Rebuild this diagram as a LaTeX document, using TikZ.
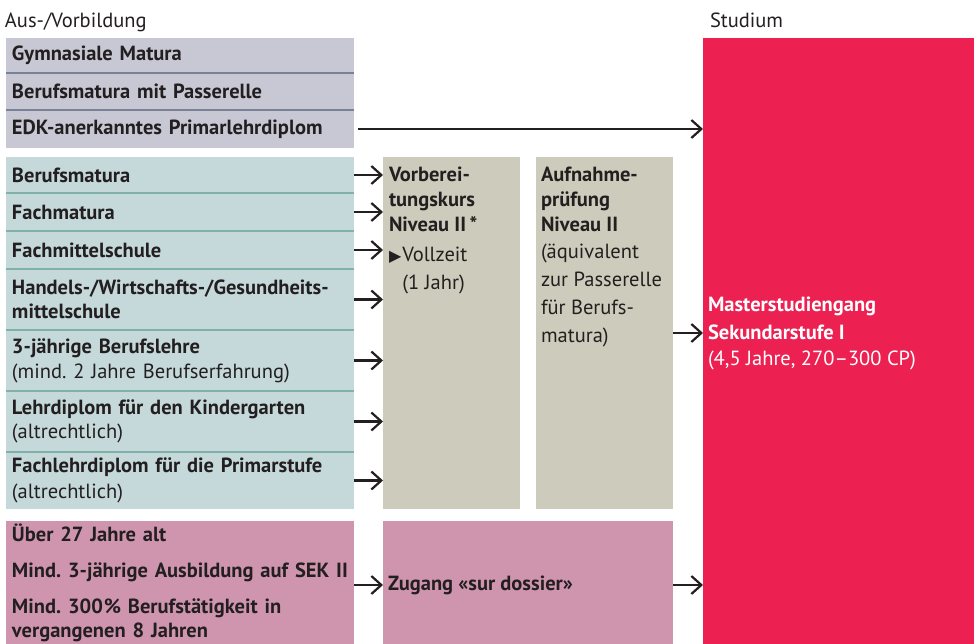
\documentclass[tikz,border=0pt]{standalone}
\usepackage{fontspec}
\setmainfont{PT Sans}
\newfontfamily\symfont{DejaVu Sans}
\usetikzlibrary{arrows.meta}
\frenchspacing
\definecolor{ink}{HTML}{231F20}
\definecolor{grayc}{HTML}{C8C8D4}
\definecolor{graysep}{HTML}{7A8298}
\definecolor{tealc}{HTML}{C5D9DA}
\definecolor{tealsep}{HTML}{7FB1A9}
\definecolor{beigec}{HTML}{CDCBBB}
\definecolor{pinkc}{HTML}{CF95AE}
\definecolor{redc}{HTML}{EC2152}
\newcommand{\tri}{{\symfont\fontsize{16}{16}\selectfont ▶}}
\tikzset{
  txt/.style={inner sep=0pt, outer sep=0pt, text=ink, align=left, font=\fontsize{20.5}{24}\selectfont},
  rowbox/.style={txt, anchor=north west, minimum width=348pt, inner xsep=6pt, text width=336pt},
  panel/.style={draw=none, inner sep=0pt, outer sep=0pt, anchor=north west},
  sepline/.style={line width=2pt},
  conn/.style={line width=2.2pt, draw=ink, -{Straight Barb[length=10pt, width=18pt, line width=2.2pt]}}
}
\begin{document}
\begin{tikzpicture}[x=1pt, y=-1pt]
\useasboundingbox (0,0) rectangle (978,644);
% headings
\node[txt, anchor=base west] (h1) at (5,28) {Aus-/Vorbildung};
\node[txt, anchor=base west] (h2) at (710,28) {Studium};
% gray rows
\node[rowbox, fill=grayc, minimum height=35pt] (g1) at (6,38) {\textbf{Gymnasiale Matura}};
\node[rowbox, fill=grayc, minimum height=37pt] (g2) at (6,73) {\textbf{Berufsmatura mit Passerelle}};
\node[rowbox, fill=grayc, minimum height=38pt] (g3) at (6,110) {\textbf{EDK-anerkanntes Primarlehrdiplom}};
\draw[sepline, graysep] (g1.south west) -- (g1.south east);
\draw[sepline, graysep] (g2.south west) -- (g2.south east);
% teal rows
\node[rowbox, fill=tealc, minimum height=36pt] (t1) at (6,157) {\textbf{Berufsmatura}};
\node[rowbox, fill=tealc, minimum height=38pt] (t2) at (6,193) {\textbf{Fachmatura}};
\node[rowbox, fill=tealc, minimum height=38pt] (t3) at (6,231) {\textbf{Fachmittelschule}};
\node[rowbox, fill=tealc, minimum height=61pt] (t4) at (6,269) {\textbf{Handels-/Wirtschafts-/Gesundheits-}\\\textbf{mittelschule}};
\node[rowbox, fill=tealc, minimum height=61pt] (t5) at (6,330) {\textbf{3-jährige Berufslehre}\\[1pt](mind. 2 Jahre Berufserfahrung)};
\node[rowbox, fill=tealc, minimum height=61pt] (t6) at (6,391) {\textbf{Lehrdiplom für den Kindergarten}\\(altrechtlich)};
\node[rowbox, fill=tealc, minimum height=57pt] (t7) at (6,452) {\textbf{Fachlehrdiplom für die Primarstufe}\\[2pt](altrechtlich)};
\foreach \r in {t1,t2,t3,t4,t5,t6}
  \draw[sepline, tealsep] (\r.south west) -- (\r.south east);
% pink left
\node[rowbox, fill=pinkc, minimum height=123pt] (p1) at (6,521) {\textbf{Über 27 Jahre alt}\\[12pt]\textbf{Mind. 3-jährige Ausbildung auf SEK II}\\[12pt]\textbf{Mind. 300\kern1pt\% Berufstätigkeit in}\\\textbf{vergangenen 8 Jahren}};
% middle panels
\node[panel, fill=beigec, minimum width=137pt, minimum height=352pt] (vk) at (383,157) {};
\node[panel, fill=beigec, minimum width=137pt, minimum height=352pt] (ap) at (536,157) {};
\node[panel, fill=pinkc, minimum width=290pt, minimum height=123pt] (zg) at (383,521) {};
\node[panel, fill=redc, minimum width=271pt, minimum height=606pt] (ms) at (703,38) {};
% panel texts
\node[txt, anchor=north west] (vkt) at (389,167) {\textbf{Vorberei-}\\[1pt]\textbf{tungskurs}\\[1pt]\textbf{Niveau II\,*}\\[6pt]\tri\kern1pt Vollzeit\\[4pt]\hphantom{\tri\kern1pt}(1 Jahr)};
\node[txt, anchor=north west] (apt) at (541,167) {\textbf{Aufnahme-}\\[1pt]\textbf{prüfung}\\[1pt]\textbf{Niveau II}\\[3pt](äquivalent\\[4pt]zur Passerelle\\[4pt]für Berufs-\\[4pt]matura)};
\node[txt, anchor=west] (zgt) at (388,585) {\textbf{Zugang «sur dossier»}};
\node[txt, anchor=north west, text=white] (mst) at (708,297) {\textbf{Masterstudiengang}\\[4pt]\textbf{Sekundarstufe I}\\[2pt](4,5 Jahre, 270–300 CP)};
% connectors
\draw[conn] ([xshift=4pt]g3.east) -- (g3.east -| ms.west);
\foreach \r in {t1,t2,t3,t4,t5,t6,t7}
  \draw[conn] (\r.east) -- (\r.east -| vk.west);
\coordinate (apy) at (ap.east |- 0,333);
\draw[conn] (apy) -- (apy -| ms.west);
\coordinate (py) at (p1.east |- 0,585);
\draw[conn] (py) -- (py -| zg.west);
\draw[conn] (py -| zg.east) -- (py -| ms.west);
\end{tikzpicture}
\end{document}
